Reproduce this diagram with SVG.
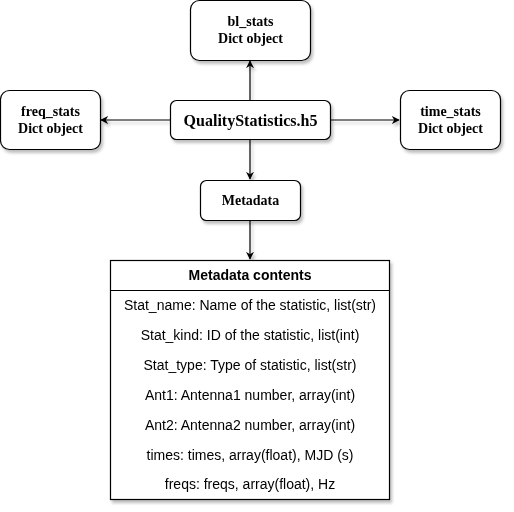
<svg xmlns="http://www.w3.org/2000/svg" width="514" height="512" viewBox="0 0 514 512">
<style>
.box{fill:#fff;stroke:#000;stroke-width:1.2}
.node{font-family:"Liberation Serif",serif;font-weight:bold;font-size:14px;text-anchor:middle;fill:#000}
.row{font-family:"Liberation Sans",sans-serif;font-size:14px;text-anchor:middle;fill:#000}
.hdr{font-family:"Liberation Sans",sans-serif;font-weight:bold;font-size:14px;text-anchor:middle;fill:#000}
.edge{stroke:#000;stroke-width:1.2;fill:none}
</style>
<defs>
<filter id="sh" x="-20%" y="-20%" width="140%" height="140%">
<feDropShadow dx="2" dy="3" stdDeviation="1.5" flood-color="#000" flood-opacity="0.25"/>
</filter>
<marker id="arr" viewBox="0 0 10 10" refX="9" refY="5" markerWidth="8" markerHeight="8" markerUnits="userSpaceOnUse" orient="auto">
<path d="M0,0 L10,5 L0,10 L3,5 Z" fill="#000"/>
</marker>
</defs>
<g id="connectors" filter="url(#sh)">
<line class="edge" x1="250" y1="100" x2="250" y2="61" marker-end="url(#arr)"/>
<line class="edge" x1="171" y1="120" x2="101" y2="120" marker-end="url(#arr)"/>
<line class="edge" x1="330" y1="120" x2="399" y2="120" marker-end="url(#arr)"/>
<line class="edge" x1="250" y1="140" x2="250" y2="179" marker-end="url(#arr)"/>
<line class="edge" x1="250" y1="220" x2="250" y2="259" marker-end="url(#arr)"/>
</g>
<g id="bl_stats" filter="url(#sh)">
<rect class="box" x="190.5" y="0.5" width="120" height="60" rx="9"/>
<text class="node" x="250.5" y="26">bl_stats</text>
<text class="node" x="250.5" y="43">Dict object</text>
</g>
<g id="freq_stats" filter="url(#sh)">
<rect class="box" x="0.5" y="90.5" width="100" height="59" rx="9"/>
<text class="node" x="50.5" y="116">freq_stats</text>
<text class="node" x="50.5" y="133">Dict object</text>
</g>
<g id="quality" filter="url(#sh)">
<rect class="box" x="170.5" y="100.5" width="160" height="39" rx="6"/>
<text class="node" x="250.5" y="126" style="font-size:16px">QualityStatistics.h5</text>
</g>
<g id="time_stats" filter="url(#sh)">
<rect class="box" x="400.5" y="90.5" width="100" height="59" rx="9"/>
<text class="node" x="450.5" y="116">time_stats</text>
<text class="node" x="450.5" y="133">Dict object</text>
</g>
<g id="metadata" filter="url(#sh)">
<rect class="box" x="200.5" y="180.5" width="100" height="40" rx="6"/>
<text class="node" x="250.5" y="205">Metadata</text>
</g>
<g id="metadata_contents" filter="url(#sh)">
<rect class="box" x="110.5" y="260.5" width="279" height="239"/>
<line class="edge" x1="110.5" y1="290.5" x2="389.5" y2="290.5"/>
<text class="hdr" x="250" y="280">Metadata contents</text>
<text class="row" x="250" y="310">Stat_name: Name of the statistic, list(str)</text>
<text class="row" x="250" y="340">Stat_kind: ID of the statistic, list(int)</text>
<text class="row" x="250" y="370">Stat_type: Type of statistic, list(str)</text>
<text class="row" x="250" y="400">Ant1: Antenna1 number, array(int)</text>
<text class="row" x="250" y="430">Ant2: Antenna2 number, array(int)</text>
<text class="row" x="250" y="460">times: times, array(float), MJD (s)</text>
<text class="row" x="250" y="489">freqs: freqs, array(float), Hz</text>
</g>
</svg>
